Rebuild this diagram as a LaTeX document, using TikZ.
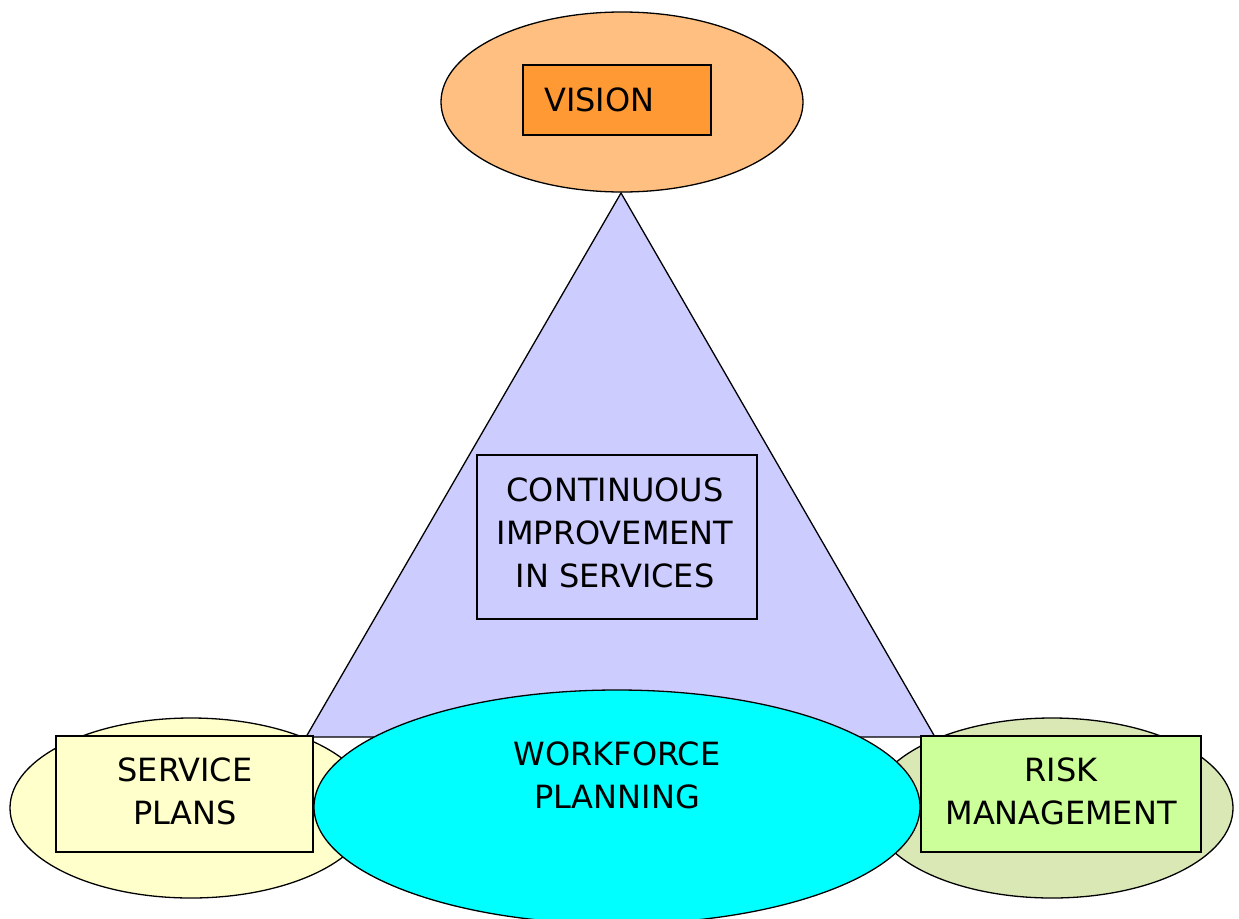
\documentclass[tikz,border=0pt]{standalone}
\usepackage{fontspec}
\setmainfont{DejaVu Sans}
\usetikzlibrary{shapes.geometric}
\definecolor{visionEll}{HTML}{FFBF80}
\definecolor{visionBox}{HTML}{FF9933}
\definecolor{triFill}{HTML}{CCCCFF}
\definecolor{spFill}{HTML}{FFFFCC}
\definecolor{rmEll}{HTML}{D9E8B5}
\definecolor{rmBox}{HTML}{CCFF99}
\definecolor{wfFill}{HTML}{00FFFF}
\tikzset{
  ell/.style={ellipse, draw=black, line width=1.3pt, inner sep=0pt},
  lbox/.style={rectangle, draw=black, line width=1.3pt, inner sep=0pt},
  lbl/.style={font=\fontsize{32}{43}\selectfont, align=center, inner sep=0pt},
}
\begin{document}
\begin{tikzpicture}[x=1pt,y=-1pt]
\useasboundingbox (0,0) rectangle (1239,918);
\clip (0,0) rectangle (1239,918);
% triangle
\coordinate (apex) at (621,193);
\coordinate (bl) at (306,737);
\coordinate (br) at (935,737);
\draw[fill=triFill, line width=1.3pt, line join=miter] (apex) -- (bl) -- (br) -- cycle;
% vision
\node[ell, fill=visionEll, minimum width=362pt, minimum height=180pt] (visionE) at (622,102) {};
\node[lbox, fill=visionBox, minimum width=188pt, minimum height=70pt] (visionB) at (617,100) {};
\node[lbl, anchor=west] (visionT) at (544,100) {VISION};
% continuous improvement
\node[lbox, fill=triFill, minimum width=280pt, minimum height=164pt] (ciB) at (617,537) {};
\node[lbl] (ciT) at (615,533) {CONTINUOUS\\IMPROVEMENT\\IN SERVICES};
% side ellipses
\node[ell, fill=spFill, minimum width=362pt, minimum height=180pt] (spE) at (191,808) {};
\node[ell, fill=rmEll, minimum width=362pt, minimum height=180pt] (rmE) at (1052,808) {};
% workforce
\node[ell, fill=wfFill, minimum width=606pt, minimum height=234pt] (wfE) at (617,807) {};
\node[lbl] (wfT) at (617,775) {WORKFORCE\\PLANNING};
% side boxes
\node[lbox, fill=spFill, minimum width=257pt, minimum height=116pt] (spB) at (184.5,794) {};
\node[lbl] (spT) at (185,791) {SERVICE\\PLANS};
\node[lbox, fill=rmBox, minimum width=280pt, minimum height=116pt] (rmB) at (1061,794) {};
\node[lbl] (rmT) at (1061,791) {RISK\\MANAGEMENT};
\end{tikzpicture}
\end{document}
